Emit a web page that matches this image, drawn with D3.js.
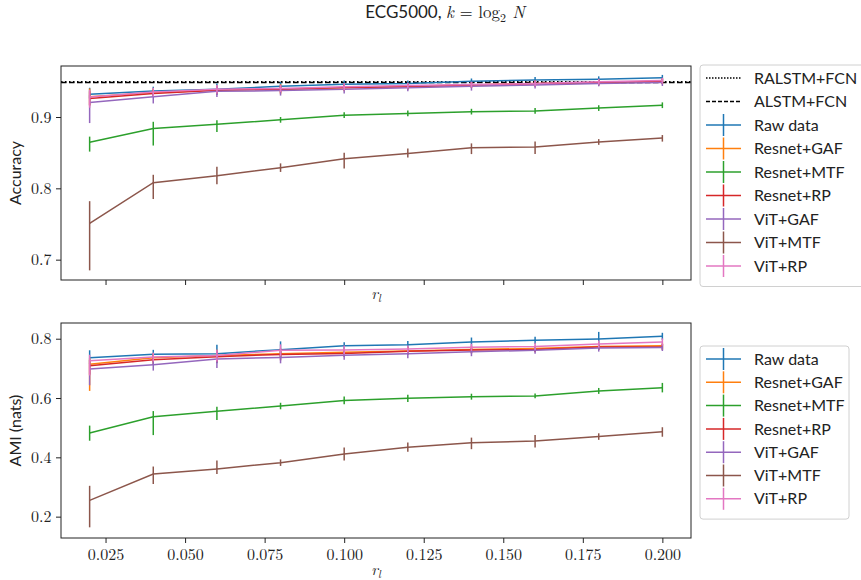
<!DOCTYPE html>
<html>
<head>
<meta charset="utf-8">
<script src="https://cdn.jsdelivr.net/npm/d3@7"></script>
<style>
  body { margin: 0; background: #fff; }
  svg text { fill: #222; }
</style>
</head>
<body>
<script>
// r_l values
var rl = [0.02, 0.04, 0.06, 0.08, 0.10, 0.12, 0.14, 0.16, 0.18, 0.20];
var seriesNames = ["Raw data", "Resnet+GAF", "Resnet+MTF", "Resnet+RP", "ViT+GAF", "ViT+MTF", "ViT+RP"];
var colors = ["#1f77b4", "#ff7f0e", "#2ca02c", "#d62728", "#9467bd", "#8c564b", "#e377c2"];

// accuracy (top panel)
var accRaw    = [0.932, 0.9365, 0.939, 0.943, 0.946, 0.947, 0.950, 0.952, 0.953, 0.955];
var accResGAF = [0.9285, 0.934, 0.938, 0.939, 0.941, 0.943, 0.945, 0.947, 0.948, 0.950];
var accResMTF = [0.8645, 0.884, 0.890, 0.896, 0.9025, 0.905, 0.9075, 0.9085, 0.9125, 0.9165];
var accResRP  = [0.926, 0.933, 0.9375, 0.939, 0.9415, 0.9425, 0.945, 0.9465, 0.9485, 0.950];
var accVitGAF = [0.9205, 0.9285, 0.936, 0.937, 0.939, 0.941, 0.943, 0.945, 0.947, 0.9485];
var accVitMTF = [0.751, 0.808, 0.8175, 0.829, 0.8415, 0.849, 0.857, 0.858, 0.865, 0.8705];
var accVitRP  = [0.928, 0.935, 0.939, 0.940, 0.9425, 0.944, 0.9455, 0.947, 0.9495, 0.951];

// error bar extent below / above the mean
var accLoRaw    = [0.006, 0.006, 0.008, 0.006, 0.005, 0.004, 0.004, 0.004, 0.004, 0.004];
var accHiRaw    = [0.009, 0.006, 0.008, 0.006, 0.005, 0.004, 0.004, 0.004, 0.004, 0.004];
var accLoResGAF = [0.012, 0.006, 0.006, 0.007, 0.005, 0.004, 0.004, 0.004, 0.004, 0.004];
var accHiResGAF = [0.0115, 0.006, 0.006, 0.007, 0.005, 0.004, 0.004, 0.004, 0.004, 0.004];
var accLoResMTF = [0.013, 0.024, 0.011, 0.004, 0.004, 0.004, 0.004, 0.004, 0.004, 0.004];
var accHiResMTF = [0.008, 0.0093, 0.0056, 0.004, 0.004, 0.004, 0.004, 0.004, 0.004, 0.004];
var accLoResRP  = [0.01, 0.005, 0.005, 0.005, 0.004, 0.004, 0.004, 0.004, 0.004, 0.004];
var accHiResRP  = [0.01, 0.005, 0.005, 0.005, 0.004, 0.004, 0.004, 0.004, 0.004, 0.004];
var accLoVitGAF = [0.029, 0.0095, 0.008, 0.007, 0.006, 0.005, 0.006, 0.005, 0.004, 0.005];
var accHiVitGAF = [0.01, 0.006, 0.008, 0.007, 0.006, 0.005, 0.006, 0.005, 0.004, 0.005];
var accLoVitMTF = [0.066, 0.023, 0.0117, 0.006, 0.0136, 0.0056, 0.009, 0.010, 0.004, 0.005];
var accHiVitMTF = [0.031, 0.011, 0.0126, 0.006, 0.0084, 0.007, 0.006, 0.0075, 0.004, 0.0042];
var accLoVitRP  = [0.015, 0.006, 0.006, 0.005, 0.005, 0.004, 0.004, 0.004, 0.004, 0.004];
var accHiVitRP  = [0.01, 0.006, 0.006, 0.005, 0.005, 0.004, 0.004, 0.004, 0.004, 0.004];

// baselines
var ralstmAcc = 0.9493;
var alstmAcc = 0.9482;

// AMI (bottom panel)
var amiRaw    = [0.736, 0.7475, 0.7495, 0.763, 0.7765, 0.780, 0.789, 0.7945, 0.799, 0.808];
var amiResGAF = [0.714, 0.736, 0.743, 0.7495, 0.754, 0.759, 0.764, 0.767, 0.774, 0.7765];
var amiResMTF = [0.482, 0.537, 0.555, 0.573, 0.592, 0.599, 0.6045, 0.607, 0.624, 0.635];
var amiResRP  = [0.709, 0.729, 0.7395, 0.747, 0.7505, 0.758, 0.762, 0.764, 0.772, 0.772];
var amiVitGAF = [0.698, 0.7125, 0.7315, 0.737, 0.744, 0.7495, 0.756, 0.761, 0.7685, 0.7705];
var amiVitMTF = [0.255, 0.344, 0.361, 0.382, 0.411, 0.434, 0.4495, 0.455, 0.470, 0.4865];
var amiVitRP  = [0.726, 0.738, 0.743, 0.761, 0.762, 0.765, 0.771, 0.774, 0.782, 0.789];

var amiLoRaw    = [0.02, 0.015, 0.032, 0.028, 0.012, 0.012, 0.015, 0.012, 0.024, 0.012];
var amiHiRaw    = [0.025, 0.015, 0.03, 0.028, 0.012, 0.012, 0.015, 0.012, 0.024, 0.012];
var amiLoResGAF = [0.09, 0.015, 0.02, 0.015, 0.012, 0.012, 0.012, 0.01, 0.01, 0.01];
var amiHiResGAF = [0.02, 0.015, 0.02, 0.015, 0.012, 0.012, 0.012, 0.01, 0.01, 0.01];
var amiLoResMTF = [0.026, 0.062, 0.029, 0.011, 0.013, 0.012, 0.01, 0.008, 0.01, 0.016];
var amiHiResMTF = [0.025, 0.019, 0.016, 0.011, 0.013, 0.012, 0.01, 0.008, 0.01, 0.016];
var amiLoResRP  = [0.03, 0.015, 0.02, 0.02, 0.012, 0.012, 0.012, 0.01, 0.01, 0.01];
var amiHiResRP  = [0.02, 0.015, 0.02, 0.02, 0.012, 0.012, 0.012, 0.01, 0.01, 0.01];
var amiLoVitGAF = [0.055, 0.02, 0.03, 0.02, 0.015, 0.015, 0.015, 0.012, 0.012, 0.012];
var amiHiVitGAF = [0.02, 0.02, 0.03, 0.02, 0.015, 0.015, 0.015, 0.012, 0.012, 0.012];
var amiLoVitMTF = [0.091, 0.034, 0.017, 0.011, 0.022, 0.015, 0.022, 0.022, 0.011, 0.017];
var amiHiVitMTF = [0.049, 0.025, 0.028, 0.011, 0.022, 0.016, 0.017, 0.02, 0.011, 0.015];
var amiLoVitRP  = [0.05, 0.015, 0.02, 0.02, 0.015, 0.012, 0.012, 0.012, 0.012, 0.012];
var amiHiVitRP  = [0.02, 0.015, 0.02, 0.02, 0.015, 0.012, 0.012, 0.012, 0.012, 0.012];

var xTicks = [0.025, 0.050, 0.075, 0.100, 0.125, 0.150, 0.175, 0.200];
var accTicks = [0.7, 0.8, 0.9];
var amiTicks = [0.2, 0.4, 0.6, 0.8];

var accMeans = [accRaw, accResGAF, accResMTF, accResRP, accVitGAF, accVitMTF, accVitRP];
var accLo = [accLoRaw, accLoResGAF, accLoResMTF, accLoResRP, accLoVitGAF, accLoVitMTF, accLoVitRP];
var accHi = [accHiRaw, accHiResGAF, accHiResMTF, accHiResRP, accHiVitGAF, accHiVitMTF, accHiVitRP];
var amiMeans = [amiRaw, amiResGAF, amiResMTF, amiResRP, amiVitGAF, amiVitMTF, amiVitRP];
var amiLo = [amiLoRaw, amiLoResGAF, amiLoResMTF, amiLoResRP, amiLoVitGAF, amiLoVitMTF, amiLoVitRP];
var amiHi = [amiHiRaw, amiHiResGAF, amiHiResMTF, amiHiResRP, amiHiVitGAF, amiHiVitMTF, amiHiVitRP];

var W = 861, H = 580;
var serif = "'Latin Modern Roman', 'DejaVu Serif', serif";
var sans = "'Lato', 'DejaVu Sans', sans-serif";

var svg = d3.select("body").append("svg").attr("width", W).attr("height", H);

// title
var title = svg.append("text").attr("x", 445).attr("y", 18).attr("text-anchor", "middle")
  .style("font-size", "17px");
title.append("tspan").style("font-family", sans).text("ECG5000, ");
title.append("tspan").style("font-family", serif).style("font-style", "italic").text("k");
title.append("tspan").style("font-family", serif).text(" = log");
title.append("tspan").style("font-family", serif).style("font-size", "12px").attr("dy", 4).text("2");
title.append("tspan").style("font-family", serif).style("font-style", "italic").attr("dy", -4).text(" N");

var x = d3.scaleLinear().domain([0.011, 0.209]).range([61, 691]);

function panel(top, bottom, yDomain, yTicks, yLabel, means, los, his, baselines, showXLabels) {
  var y = d3.scaleLinear().domain(yDomain).range([bottom, top]);
  var g = svg.append("g");

  var cid = "clip" + top;
  svg.append("clipPath").attr("id", cid).append("rect")
    .attr("x", 61).attr("y", top).attr("width", 630).attr("height", bottom - top);
  var plot = g.append("g").attr("clip-path", "url(#" + cid + ")");

  baselines.forEach(function(b) {
    plot.append("line").attr("x1", 61).attr("x2", 691)
      .attr("y1", y(b.v)).attr("y2", y(b.v))
      .attr("stroke", "#000").attr("stroke-width", 1.5)
      .attr("stroke-dasharray", b.dash);
  });

  var line = d3.line().x(function(d) { return x(d[0]); }).y(function(d) { return y(d[1]); });
  means.forEach(function(m, i) {
    var pts = rl.map(function(r, j) { return [r, m[j], los[i][j], his[i][j]]; });
    plot.append("path").datum(pts).attr("d", line)
      .attr("fill", "none").attr("stroke", colors[i]).attr("stroke-width", 1.5);
    plot.selectAll(".eb" + i).data(pts).enter().append("line")
      .attr("x1", function(d) { return x(d[0]); }).attr("x2", function(d) { return x(d[0]); })
      .attr("y1", function(d) { return y(d[1] - d[2]); })
      .attr("y2", function(d) { return y(d[1] + d[3]); })
      .attr("stroke", colors[i]).attr("stroke-width", 1.5);
  });

  var xa = g.append("g").attr("transform", "translate(0," + bottom + ")")
    .call(d3.axisBottom(x).tickValues(xTicks).tickSize(5).tickSizeOuter(0)
      .tickFormat(showXLabels ? d3.format(".3f") : function() { return ""; }));
  var ya = g.append("g").attr("transform", "translate(61,0)")
    .call(d3.axisLeft(y).tickValues(yTicks).tickSize(5).tickSizeOuter(0).tickFormat(d3.format(".1f")));
  [xa, ya].forEach(function(a) {
    a.select(".domain").remove();
    a.selectAll("line").attr("stroke", "#222").attr("stroke-width", 1);
    a.selectAll("text").style("font-family", serif).style("font-size", "16px").attr("fill", "#333");
  });
  xa.selectAll("text").attr("dy", "0.9em");
  ya.selectAll("text").attr("dx", "-0.1em");

  g.append("rect").attr("x", 61).attr("y", top).attr("width", 630).attr("height", bottom - top)
    .attr("fill", "none").attr("stroke", "#222").attr("stroke-width", 1);

  g.append("text").attr("transform", "translate(21," + ((top + bottom) / 2) + ") rotate(-90)")
    .attr("text-anchor", "middle").style("font-family", sans).style("font-size", "16px")
    .text(yLabel);

  var xl = g.append("text").attr("x", 376).attr("y", bottom + (showXLabels ? 37 : 19))
    .attr("text-anchor", "middle").style("font-family", serif).style("font-size", "16px");
  xl.append("tspan").style("font-style", "italic").text("r");
  xl.append("tspan").style("font-style", "italic").style("font-size", "11px").attr("dy", 3).text("l");
}

panel(66, 280, [0.6715, 0.9715], accTicks, "Accuracy", accMeans, accLo, accHi,
  [{ v: ralstmAcc, dash: "1.5,2.5" }, { v: alstmAcc, dash: "5.5,2.5" }], false);
panel(323, 538, [0.128, 0.853], amiTicks, "AMI (nats)", amiMeans, amiLo, amiHi, [], true);

// legends
function legend(x0, y0, rowH, items, boxW) {
  var g = svg.append("g");
  var h = items.length * rowH + 10;
  g.append("rect").attr("x", x0).attr("y", y0).attr("width", boxW).attr("height", h)
    .attr("rx", 3).attr("fill", "#fff").attr("stroke", "#d0d0d0").attr("stroke-width", 1);
  items.forEach(function(it, i) {
    var cy = y0 + 13 + i * rowH;
    g.append("line").attr("x1", x0 + 6).attr("x2", x0 + 41).attr("y1", cy).attr("y2", cy)
      .attr("stroke", it.color).attr("stroke-width", 1.5)
      .attr("stroke-dasharray", it.dash || null);
    if (!it.dash) {
      g.append("line").attr("x1", x0 + 23.5).attr("x2", x0 + 23.5).attr("y1", cy - 11).attr("y2", cy + 11)
        .attr("stroke", it.color).attr("stroke-width", 1.5);
    }
    g.append("text").attr("x", x0 + 54).attr("y", cy).attr("dy", "0.35em")
      .style("font-family", sans).style("font-size", "16px").text(it.name);
  });
}

var seriesItems = seriesNames.map(function(n, i) { return { name: n, color: colors[i] }; });
legend(700, 65, 23.5, [{ name: "RALSTM+FCN", color: "#000", dash: "1.5,1.5" },
  { name: "ALSTM+FCN", color: "#000", dash: "4,2" }].concat(seriesItems), 170);
legend(700, 346, 23.3, seriesItems, 149);
</script>
</body>
</html>
